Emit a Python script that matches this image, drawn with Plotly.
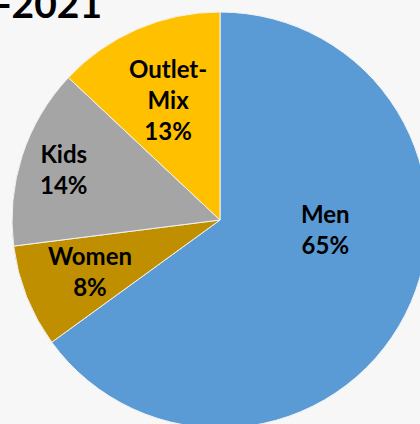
import math
import plotly.graph_objects as go

labels = ["Men", "Women", "Kids", "Outlet-Mix"]
label_lines = ["Men", "Women", "Kids", "Outlet-<br>Mix"]
values = [65, 8, 14, 13]
colors = ["#5B9BD5", "#BF8F00", "#A5A5A5", "#FFC000"]
title_text = "-2021"

# label placement style: (fraction of radius, angular offset in degrees from bisector)
label_style = [(0.51, -22), (0.67, 0), (0.79, 0), (0.63, 0)]

W, H = 440, 440
cx, cy, r = 220, 220, 208

fig = go.Figure(go.Pie(
    labels=labels,
    values=values,
    sort=False,
    direction="clockwise",
    rotation=0,
    marker=dict(colors=colors, line=dict(color="#F2F2F2", width=1)),
    textinfo="none",
    showlegend=False,
    hoverinfo="skip",
    domain=dict(x=[(cx - r) / W, (cx + r) / W], y=[(H - cy - r) / H, (H - cy + r) / H]),
))

total = sum(values)
cum = 0
for lab, v, (frac, off) in zip(label_lines, values, label_style):
    mid = (cum + v / 2) / total * 360 + off
    cum += v
    d = frac * r
    px = cx + d * math.sin(math.radians(mid))
    py = cy - d * math.cos(math.radians(mid))
    pct = round(v / total * 100)
    fig.add_annotation(
        text=f"<b>{lab}<br>{pct}%</b>", xref="paper", yref="paper",
        x=px / W, y=(H - py) / H, xanchor="center", yanchor="middle",
        showarrow=False, font=dict(family="Lato", size=24, color="black"),
    )

fig.add_annotation(
    text="<b>" + title_text + "</b>", xref="paper", yref="paper",
    x=-0.012, y=(H - 28) / H, xanchor="left", yanchor="bottom",
    showarrow=False, font=dict(family="Lato", size=39, color="black"),
)

fig.update_layout(
    width=W, height=H,
    margin=dict(l=0, r=0, t=0, b=0),
    paper_bgcolor="#F7F7F7",
    plot_bgcolor="#F7F7F7",
)

fig.write_html("out.html", post_script="document.body.style.overflow='hidden';document.body.style.margin='0';document.body.style.background='#F7F7F7';")
